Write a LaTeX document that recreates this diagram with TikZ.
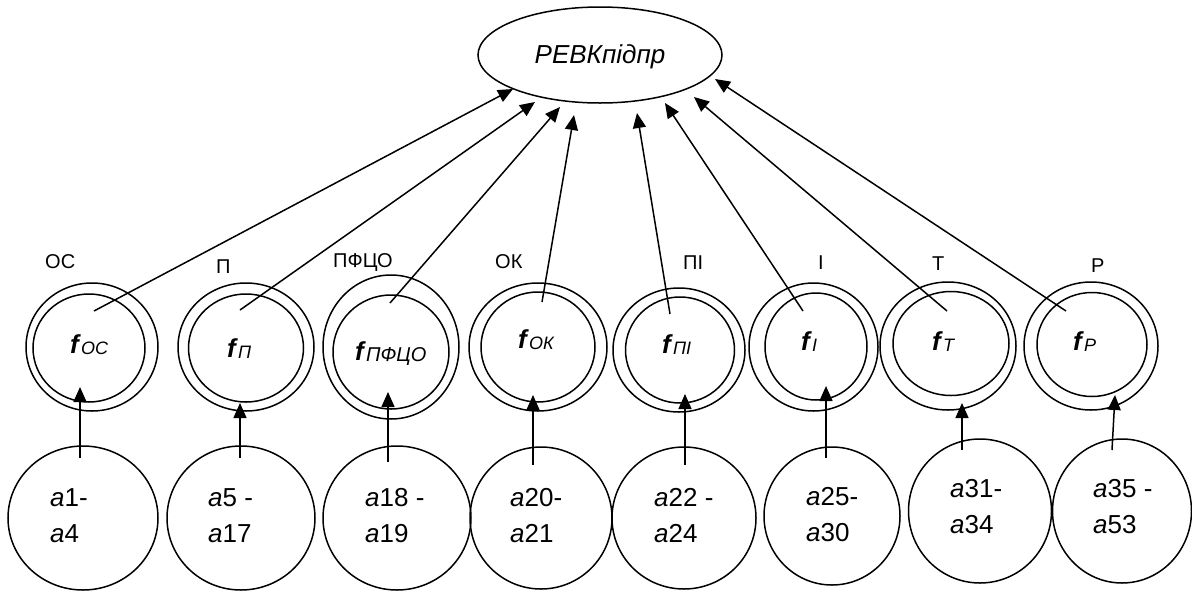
\documentclass[tikz,border=0pt]{standalone}
\usepackage{fontspec}
\setmainfont{Liberation Sans}
\usetikzlibrary{arrows.meta,shapes.geometric}
\begin{document}
\begin{tikzpicture}[x=1pt,y=-1pt,
  lw/.style={line width=1.5pt},
  ell/.style={draw,ellipse,lw,inner sep=0pt,outer sep=0pt},
  arr/.style={lw,-{Triangle[length=15pt,width=13pt]}},
  lbl/.style={font=\fontsize{20}{22}\selectfont,inner sep=0pt,anchor=base west},
  ftxt/.style={font=\fontsize{26}{28}\selectfont,inner sep=0pt,anchor=base west},
  atxt/.style={font=\fontsize{26}{36}\selectfont,inner sep=0pt,align=left,anchor=base west}]
\newcommand\ftext[2][18]{\textbf{\textit{f}}\textit{\fontsize{#1}{20}\selectfont\raisebox{-1pt}{#2}}}
\newcommand\atext[2]{\textit{a}#1\\\textit{a}#2}
\useasboundingbox (0,0) rectangle (1192,592);
% top ellipse
\node[ell,minimum width=244pt,minimum height=96pt] (top) at (600,55) {};
\node[font=\fontsize{26}{28}\selectfont\itshape,inner sep=0pt] (toptxt) at (600,57) {РЕВКпідпр};
% double circles
\node[ell,minimum width=132pt,minimum height=128pt] (o1) at (92,347) {};
\node[ell,minimum width=112pt,minimum height=108pt] (i1) at (89,348) {};
\node[ell,minimum width=136pt,minimum height=128pt] (o2) at (246,347) {};
\node[ell,minimum width=115pt,minimum height=108pt] (i2) at (246,348) {};
\node[ell,minimum width=136pt,minimum height=144pt] (o3) at (391,347) {};
\node[ell,minimum width=116pt,minimum height=114pt] (i3) at (391,352) {};
\node[ell,minimum width=138pt,minimum height=128pt] (o4) at (538,347) {};
\node[ell,minimum width=114pt,minimum height=110pt] (i4) at (538,347) {};
\node[ell,minimum width=132pt,minimum height=124pt] (o5) at (679,350) {};
\node[ell,minimum width=109pt,minimum height=106pt] (i5) at (680,350) {};
\node[ell,minimum width=129pt,minimum height=128pt] (o6) at (813.5,347) {};
\node[ell,minimum width=102pt,minimum height=107pt] (i6) at (816,346.5) {};
\node[ell,minimum width=136pt,minimum height=128pt] (o7) at (948,346) {};
\node[ell,minimum width=116pt,minimum height=104pt] (i7) at (951,343.5) {};
\node[ell,minimum width=134pt,minimum height=128pt] (o8) at (1091,346) {};
\node[ell,minimum width=110pt,minimum height=104pt] (i8) at (1092,344.5) {};
% labels above
\node[lbl] (l1) at (45,268) {ОС};
\node[lbl] (l2) at (216,273) {П};
\node[lbl] (l3) at (333,267) {ПФЦО};
\node[lbl] (l4) at (495,268) {ОК};
\node[lbl] (l5) at (683,269) {ПІ};
\node[lbl] (l6) at (818,269) {І};
\node[lbl] (l7) at (932,270) {Т};
\node[lbl] (l8) at (1091,272) {Р};
% f texts
\node[ftxt] (f1) at (70,353) {\ftext{ОС}};
\node[ftxt] (f2) at (227,357) {\ftext{П}};
\node[ftxt] (f3) at (355,360) {\ftext[20]{ПФЦО}};
\node[ftxt] (f4) at (518,348) {\ftext{ОК}};
\node[ftxt] (f5) at (662,353) {\ftext{ПІ}};
\node[ftxt] (f6) at (801,350) {\ftext{І}};
\node[ftxt] (f7) at (932,350) {\ftext{Т}};
\node[ftxt] (f8) at (1073,350) {\ftext{Р}};
% bottom circles
\node[ell,minimum width=150pt,minimum height=144pt] (b1) at (83,518) {};
\node[ell,minimum width=148pt,minimum height=144pt] (b2) at (241,518) {};
\node[ell,minimum width=148pt,minimum height=144pt] (b3) at (397,518) {};
\node[ell,minimum width=142pt,minimum height=142pt] (b4) at (541,518) {};
\node[ell,minimum width=144pt,minimum height=142pt] (b5) at (684,518) {};
\node[ell,minimum width=136pt,minimum height=138pt] (b6) at (832,516) {};
\node[ell,minimum width=143pt,minimum height=144pt] (b7) at (980,511) {};
\node[ell,minimum width=139pt,minimum height=144pt] (b8) at (1122,511) {};
% a texts (anchor = baseline of second line)
\node[atxt] (a1) at (50,542) {\atext{1-}{4}};
\node[atxt] (a2) at (208,542) {\atext{5 -}{17}};
\node[atxt] (a3) at (365,542) {\atext{18 -}{19}};
\node[atxt] (a4) at (510,542) {\atext{20-}{21}};
\node[atxt] (a5) at (654,542) {\atext{22 -}{24}};
\node[atxt] (a6) at (806,541) {\atext{25-}{30}};
\node[atxt] (a7) at (950,533) {\atext{31-}{34}};
\node[atxt] (a8) at (1093,533) {\atext{35 -}{53}};
% connector end points
\coordinate (s1) at (94,311);   \coordinate (t1) at (513,89);
\coordinate (s2) at (240,310);  \coordinate (t2) at (535,102);
\coordinate (s3) at (390,303);  \coordinate (t3) at (560,107);
\coordinate (s4) at (542,302);  \coordinate (t4) at (574,115);
\coordinate (s5) at (670,314);  \coordinate (t5) at (637,113);
\coordinate (s6) at (803,311);  \coordinate (t6) at (665,103);
\coordinate (s7) at (947,311);  \coordinate (t7) at (694,97);
\coordinate (s8) at (1066,311); \coordinate (t8) at (715,79);
\foreach \k in {1,...,8} { \draw[arr] (s\k) -- (t\k); }
% vertical arrows
\coordinate (u1) at (80,458);   \coordinate (v1) at (80,387);
\coordinate (u2) at (240,458);  \coordinate (v2) at (240,403);
\coordinate (u3) at (388,462);  \coordinate (v3) at (388,392);
\coordinate (u4) at (533,465);  \coordinate (v4) at (533,395);
\coordinate (u5) at (685,465);  \coordinate (v5) at (685,394);
\coordinate (u6) at (826,458);  \coordinate (v6) at (826,386);
\coordinate (u7) at (962,450);  \coordinate (v7) at (962,403);
\coordinate (u8) at (1112,450); \coordinate (v8) at (1115,395);
\foreach \k in {1,...,8} { \draw[arr] (u\k) -- (v\k); }
\end{tikzpicture}
\end{document}
